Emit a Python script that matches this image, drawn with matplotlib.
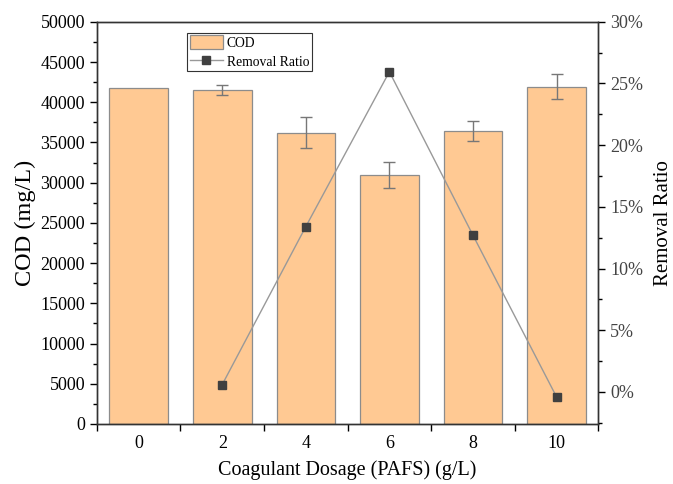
import numpy as np
import matplotlib.pyplot as plt
from matplotlib.ticker import MultipleLocator, FixedLocator, PercentFormatter

plt.rcParams['font.family'] = ['Liberation Serif', 'DejaVu Serif']

# COD after coagulation at each PAFS dosage
dosage = [0, 2, 4, 6, 8, 10]
cod = [41800, 41540, 36230, 30930, 36440, 41950]
cod_err = [0, 650, 1950, 1580, 1200, 1600]

# removal ratio (%) relative to the untreated sample
dose_ratio = [2, 4, 6, 8, 10]
removal = [0.6, 13.4, 25.95, 12.7, -0.4]

fig = plt.figure(figsize=(6.73, 4.84), dpi=100)
ax = fig.add_axes([0.144, 0.124, 0.745, 0.831])

bars = ax.bar(dosage, cod, width=1.4, color='#FFC993', edgecolor='#8c8c8c',
              linewidth=0.9, label='COD', zorder=2)
ax.errorbar(dosage[1:], cod[1:], yerr=cod_err[1:], fmt='none', ecolor='#777777',
            elinewidth=1.0, capsize=4, capthick=1.0, zorder=3)

ax.set_xlim(-1, 11)
ax.set_ylim(0, 50000)
ax.set_xticks(dosage)
ax.set_xticklabels([str(d) for d in dosage])
ax.xaxis.set_minor_locator(FixedLocator(np.arange(-1, 12, 2)))
ax.tick_params(axis='x', which='major', length=0, pad=8, labelsize=13)
ax.tick_params(axis='x', which='minor', direction='out', length=5, width=1)
ax.yaxis.set_major_locator(MultipleLocator(5000))
ax.yaxis.set_minor_locator(MultipleLocator(2500))
ax.tick_params(axis='y', which='major', direction='out', length=5, width=1, labelsize=13)
ax.tick_params(axis='y', which='minor', direction='out', length=3, width=1)
ax.set_xlabel('Coagulant Dosage (PAFS) (g/L)', fontsize=14.5, labelpad=6)
ax.set_ylabel('COD (mg/L)', fontsize=17.5, labelpad=3)
for s in ax.spines.values():
    s.set_color('#333333')
    s.set_linewidth(1.0)

ax2 = ax.twinx()
line, = ax2.plot(dose_ratio, removal, color='#999999', linewidth=1.0,
                 marker='s', markersize=6, markerfacecolor='#404040',
                 markeredgecolor='#404040', label='Removal Ratio', zorder=4)
ax2.set_ylim(-2.6, 30)
ax2.yaxis.set_major_locator(MultipleLocator(5))
ax2.yaxis.set_minor_locator(MultipleLocator(2.5))
ax2.yaxis.set_major_formatter(PercentFormatter(decimals=0))
ax2.tick_params(axis='y', which='major', direction='out', length=5, width=1, labelsize=13,
                labelcolor='#444444')
ax2.tick_params(axis='y', which='minor', direction='out', length=3, width=1)
ax2.set_ylabel('Removal Ratio', fontsize=15, labelpad=8)
for s in ax2.spines.values():
    s.set_color('#333333')
    s.set_linewidth(1.0)

leg = ax2.legend([bars, line], ['COD', 'Removal Ratio'], loc='upper left',
                 bbox_to_anchor=(0.18, 0.973), fontsize=9.8, frameon=True,
                 fancybox=False, edgecolor='#333333', framealpha=1,
                 borderpad=0.2, labelspacing=0.3, handlelength=2.4,
                 handleheight=1.2, handletextpad=0.3, borderaxespad=0)
leg.get_frame().set_linewidth(0.8)

fig.savefig('out.png', dpi=100)
